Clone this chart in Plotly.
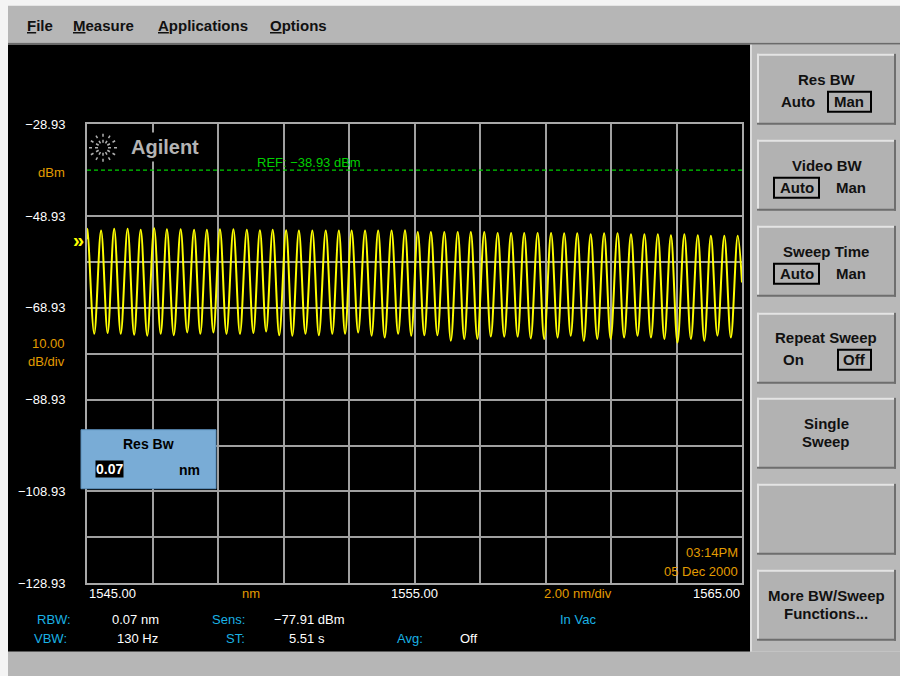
import math

import plotly.graph_objects as go

W, H = 900, 676
# the page comes out squeezed a little in height (~0.978) and shifted ~6 px down;
# positions below are screen pixels of the original and get mapped back through this
SY, OY = 0.978, 6.2

# fringe peaks and valleys (nm, dBm)
peak_nm = [1545.02, 1545.43, 1545.83, 1546.24, 1546.64, 1547.05, 1547.44, 1547.86, 1548.27, 1548.66,
           1549.06, 1549.47, 1549.88, 1550.28, 1550.67, 1551.08, 1551.47, 1551.88, 1552.29, 1552.69,
           1553.08, 1553.49, 1553.89, 1554.30, 1554.71, 1555.10, 1555.50, 1555.91, 1556.32, 1556.72,
           1557.13, 1557.54, 1557.95, 1558.35, 1558.76, 1559.17, 1559.57, 1559.97, 1560.38, 1560.79,
           1561.20, 1561.61, 1562.02, 1562.43, 1562.83, 1563.24, 1563.65, 1564.05, 1564.46, 1564.87]
peak_dbm = [-51.7, -52.1, -51.7, -51.7, -51.9, -51.6, -51.8, -51.8, -51.9, -51.9,
            -51.8, -51.8, -51.9, -52.0, -51.9, -52.0, -52.1, -52.1, -52.1, -52.1,
            -52.1, -52.1, -52.1, -52.1, -52.0, -52.4, -52.4, -52.4, -52.4, -52.4,
            -52.4, -52.6, -52.6, -52.6, -52.6, -52.6, -52.7, -52.7, -52.9, -52.7,
            -52.7, -52.9, -52.9, -52.9, -53.1, -52.9, -53.1, -53.2, -53.2, -53.2]
valley_nm = [1545.22, 1545.63, 1546.03, 1546.44, 1546.84, 1547.25, 1547.65, 1548.06, 1548.46, 1548.86,
             1549.26, 1549.67, 1550.08, 1550.47, 1550.87, 1551.27, 1551.67, 1552.08, 1552.49, 1552.88,
             1553.28, 1553.69, 1554.09, 1554.50, 1554.90, 1555.30, 1555.70, 1556.11, 1556.52, 1556.92,
             1557.33, 1557.74, 1558.15, 1558.55, 1558.96, 1559.37, 1559.77, 1560.17, 1560.58, 1560.99,
             1561.40, 1561.81, 1562.22, 1562.63, 1563.03, 1563.44, 1563.85, 1564.25, 1564.66]
valley_dbm = [-74.6, -74.4, -74.6, -74.8, -75.0, -74.6, -74.9, -74.3, -74.6, -74.3,
              -74.6, -74.6, -74.4, -74.1, -74.9, -75.0, -74.6, -74.9, -74.6, -74.6,
              -74.3, -75.0, -75.4, -74.6, -75.0, -74.9, -74.9, -76.1, -75.7, -75.7,
              -75.2, -75.2, -75.2, -75.6, -75.7, -75.4, -75.0, -76.1, -75.7, -75.7,
              -75.4, -75.0, -75.4, -75.7, -76.5, -75.7, -76.1, -75.0, -75.4]
start_pt = (1545.00, -54.0)
end_pt = (1565.00, -63.4)

ref_dbm = -38.93
y_ticks = [-128.93, -118.93, -108.93, -98.93, -88.93, -78.93, -68.93, -58.93, -48.93, -28.93]
y_text = ["−128.93", "", "−108.93", "", "−88.93", "", "−68.93", "", "−48.93", "−28.93"]
x_labels = [(1545, "1545.00", "left"), (1555, "1555.00", "center"), (1565, "1565.00", "right")]

ORANGE = "#e39c00"
CYAN = "#1ab2e4"
GREEN = "#00d000"
FONT = "Liberation Sans"


def fx(x):
    return x / W


def fy(y):
    return 1 - (y - OY) / SY / H


def rect(x0, y0, x1, y1, fill, line=None, lw=0, layer="below"):
    return dict(type="rect", xref="paper", yref="paper", x0=fx(x0), x1=fx(x1), y0=fy(y1), y1=fy(y0),
                fillcolor=fill, line=dict(color=line or fill, width=lw), layer=layer)


def hline(x0, x1, y, color, w):
    return dict(type="line", xref="paper", yref="paper", x0=fx(x0), x1=fx(x1), y0=fy(y), y1=fy(y),
                line=dict(color=color, width=w), layer="below")


def vline(x, y0, y1, color, w):
    return dict(type="line", xref="paper", yref="paper", x0=fx(x), x1=fx(x), y0=fy(y0), y1=fy(y1),
                line=dict(color=color, width=w), layer="below")


def label(text, x, y, color="black", size=13, bold=False, xanchor="center", **kw):
    if bold:
        text = f"<b>{text}</b>"
    d = dict(text=text, x=fx(x), y=fy(y), xref="paper", yref="paper", showarrow=False,
             xanchor=xanchor, yanchor="middle", font=dict(color=color, size=size, family=FONT))
    d.update(kw)
    return d


# interleave the trace: start, peak, valley, peak, ..., peak, end
xs, ys = [start_pt[0]], [start_pt[1]]
for i in range(len(peak_nm)):
    xs.append(peak_nm[i])
    ys.append(peak_dbm[i])
    if i < len(valley_nm):
        xs.append(valley_nm[i])
        ys.append(valley_dbm[i])
xs.append(end_pt[0])
ys.append(end_pt[1])

fig = go.Figure()
fig.add_trace(go.Scatter(x=[1545, 1565], y=[ref_dbm, ref_dbm], mode="lines",
                         line=dict(color=GREEN, width=1.2, dash="4px,3px"), hoverinfo="skip"))
fig.add_trace(go.Scatter(x=xs, y=ys, mode="lines", line=dict(color="#ffff00", width=2, shape="spline"),
                         hovertemplate="%{x:.2f} nm<br>%{y:.2f} dBm<extra></extra>"))

shapes = [
    rect(8, 5, 900, 42, "#b6b6b6"),
    hline(8, 900, 43, "#6a6a6a", 2),
    rect(8, 44, 750, 651, "black"),
    rect(750, 44, 900, 651, "#b9b9b9"),
    vline(751, 44, 651, "#dcdcdc", 2),
    rect(8, 651, 900, 690, "#b6b6b6"),
]

# soft-key buttons
btn_tops = [53, 139, 225, 312, 397, 483, 569]
for t in btn_tops:
    b = t + 71
    shapes.append(rect(757, t, 896, b, "#b2b2b2"))
    shapes.append(hline(757, 896, t + 1, "#e4e4e4", 2))
    shapes.append(vline(758, t, b, "#e4e4e4", 2))
    shapes.append(hline(757, 896, b - 1, "#6e6e6e", 2))
    shapes.append(vline(895, t, b, "#6e6e6e", 2))

for x0, y0, x1, y1 in [(828, 91, 871, 111), (774, 177, 819, 197), (774, 263, 819, 283), (838, 349, 871, 369)]:
    shapes.append(dict(type="rect", xref="paper", yref="paper", x0=fx(x0), x1=fx(x1), y0=fy(y1), y1=fy(y0),
                       line=dict(color="black", width=2), layer="below"))

# Res Bw entry box
shapes.append(rect(81, 429, 216, 488, "#79acd6", line="#5b8db8", lw=1, layer="above"))

# agilent spark
for k in range(12):
    a = k * math.pi / 6
    cx, cy = 103, 147
    shapes.append(dict(type="line", xref="paper", yref="paper",
                       x0=fx(cx + 5 * math.cos(a)), x1=fx(cx + 15 * math.cos(a)),
                       y0=fy(cy + 5 * math.sin(a)), y1=fy(cy + 15 * math.sin(a)),
                       line=dict(color="#b0b0b0", width=1.5, dash="dot"), layer="above"))

ann = [
    label("<u>F</u>ile", 25, 25, "#111", 15, True, "left"),
    label("<u>M</u>easure", 71, 25, "#111", 15, True, "left"),
    label("<u>A</u>pplications", 156, 25, "#111", 15, True, "left"),
    label("<u>O</u>ptions", 268, 25, "#111", 15, True, "left"),
    label("Agilent", 127, 146, "#b4b4b4", 20, True, "left", bgcolor="black", borderpad=3),
    label("dBm", 67, 172, ORANGE, 13, False, "right"),
    label("10.00", 67, 343, ORANGE, 13, False, "right"),
    label("dB/div", 67, 361, ORANGE, 13, False, "right"),
    label("»", 86, 239, "#ffff00", 20, True, "right"),
    label("REF: −38.93 dBm", 255, 162, GREEN, 13, False, "left"),
    label("03:14PM", 740, 552, ORANGE, 13, False, "right"),
    label("05 Dec 2000", 740, 571, ORANGE, 13, False, "right"),
    label("Res Bw", 148, 443, "black", 14, True),
    label("0.07", 95, 468, "white", 14, True, "left", bgcolor="black", borderpad=0),
    label("nm", 189, 469, "black", 14, True),
    label("RBW:", 73, 619, CYAN, 13, False, "right"),
    label("0.07 nm", 110, 619, "white", 13, False, "left"),
    label("Sens:", 247, 619, CYAN, 13, False, "right"),
    label("−77.91 dBm", 272, 619, "white", 13, False, "left"),
    label("In Vac", 558, 619, CYAN, 13, False, "left"),
    label("VBW:", 69, 638, CYAN, 13, False, "right"),
    label("130 Hz", 115, 638, "white", 13, False, "left"),
    label("ST:", 247, 638, CYAN, 13, False, "right"),
    label("5.51 s", 287, 638, "white", 13, False, "left"),
    label("Avg:", 425, 638, CYAN, 13, False, "right"),
    label("Off", 458, 638, "white", 13, False, "left"),
]
for xv, txt, anc in x_labels:
    ann.append(dict(text=txt, x=xv, y=fy(593), xref="x", yref="paper", showarrow=False, xanchor=anc,
                    yanchor="middle", font=dict(color="white", size=13, family=FONT)))
ann.append(dict(text="nm", x=1550, y=fy(593), xref="x", yref="paper", showarrow=False,
                yanchor="middle", font=dict(color=ORANGE, size=13, family=FONT)))
ann.append(dict(text="2.00 nm/div", x=1560, y=fy(593), xref="x", yref="paper", showarrow=False,
                yanchor="middle", font=dict(color=ORANGE, size=13, family=FONT)))

# soft-key captions
keys = [
    ("Res BW", 827, 79), ("Auto", 798, 101), ("Man", 849, 101),
    ("Video BW", 827, 165), ("Auto", 797, 187), ("Man", 851, 187),
    ("Sweep Time", 826, 251), ("Auto", 797, 273), ("Man", 851, 273),
    ("Repeat Sweep", 826, 337), ("On", 793, 359), ("Off", 854, 359),
    ("Single", 826, 423), ("Sweep", 826, 441),
    ("More BW/Sweep", 826, 595), ("Functions...", 826, 613),
]
for txt, x, y in keys:
    ann.append(label(txt, x, y, "#111", 15, True))

fig.update_layout(
    width=W, height=H,
    margin=dict(l=0, r=0, t=0, b=0),
    paper_bgcolor="#f4f4f4",
    plot_bgcolor="black",
    showlegend=False,
    shapes=shapes,
    annotations=ann,
    xaxis=dict(domain=[fx(87), fx(742)], range=[1545, 1565], tick0=1545, dtick=2,
               showgrid=True, gridcolor="#a0a0a0", gridwidth=1.5, showticklabels=False, ticks="",
               zeroline=False, showline=True, mirror=True, linecolor="#a8a8a8", linewidth=2),
    yaxis=dict(domain=[fy(582.5), fy(123.5)], range=[-128.93, -28.93], tickvals=y_ticks, ticktext=y_text,
               tickfont=dict(color="white", size=13, family=FONT), ticks="", ticklabelstandoff=17,
               showgrid=True, gridcolor="#a0a0a0", gridwidth=1.5,
               zeroline=False, showline=True, mirror=True, linecolor="#a8a8a8", linewidth=2),
)

page_js = (
    "document.body.style.margin='0';"
    "document.body.style.overflow='hidden';"
    "document.documentElement.style.background="
    "'linear-gradient(#f4f4f4 0px, #f4f4f4 40px, #b6b6b6 40px) no-repeat, #b6b6b6';"
)
fig.write_html("out.html", config={"displayModeBar": False}, post_script=page_js)
